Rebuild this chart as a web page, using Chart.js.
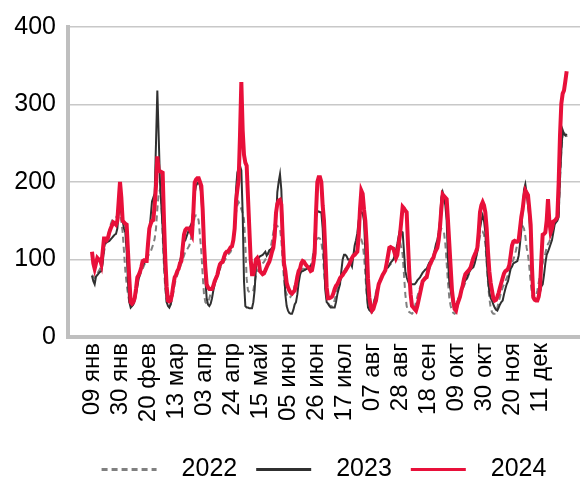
<!DOCTYPE html>
<html>
<head>
<meta charset="utf-8">
<script src="https://cdn.jsdelivr.net/npm/chart.js@4"></script>
<style>
  body { margin: 0; background: #fff; }
  #wrap { width: 580px; height: 484px; }
</style>
</head>
<body>
<div id="wrap"><canvas id="chart"></canvas></div>
<script>
// day 0 = 09 янв, one value per day up to 31 дек
const tickLabels = ['09 янв', '30 янв', '20 фев', '13 мар', '03 апр', '24 апр', '15 май', '05 июн',
  '26 июн', '17 июл', '07 авг', '28 авг', '18 сен', '09 окт', '30 окт', '20 ноя', '11 дек'];
const tickStep = 21;

const values2022 = [
  80, 78, 76, 78, 82, 85, 88, 92, 100, 110,
  118, 125, 130, 138, 145, 150, 153, 155, 155, 156,
  160, 158, 150, 135, 110, 85, 68, 55, 45, 40,
  40, 44, 50, 58, 68, 75, 80, 84, 88, 92,
  96, 100, 104, 108, 110, 115, 120, 127, 140, 165,
  185, 190, 175, 130, 90, 60, 45, 40, 40, 42,
  48, 58, 68, 75, 80, 85, 90, 95, 100, 105,
  110, 112, 115, 118, 125, 135, 145, 155, 157, 157,
  150, 130, 110, 80, 55, 45, 43, 45, 50, 56,
  62, 68, 72, 76, 80, 85, 88, 92, 95, 98,
  100, 103, 106, 108, 110, 115, 125, 140, 160, 170,
  174, 170, 165, 160, 152, 120, 75, 60, 58, 57,
  58, 60, 70, 80, 85, 88, 90, 92, 95, 97,
  100, 103, 106, 110, 115, 125, 135, 145, 145, 143,
  142, 140, 125, 97, 75, 60, 55, 52, 50, 52,
  55, 60, 66, 72, 78, 82, 85, 87, 88, 88,
  87, 86, 86, 88, 92, 98, 108, 118, 125, 127,
  128, 127, 122, 110, 85, 62, 50, 44, 41, 40,
  40, 42, 48, 55, 62, 68, 72, 76, 80, 84,
  88, 90, 93, 96, 100, 103, 106, 110, 115, 120,
  125, 127, 126, 120, 105, 80, 55, 40, 35, 34,
  36, 42, 50, 58, 65, 70, 74, 78, 80, 83,
  86, 88, 90, 92, 94, 96, 98, 102, 108, 115,
  120, 123, 115, 106, 80, 55, 40, 34, 32, 31,
  30, 32, 38, 45, 52, 58, 64, 68, 72, 75,
  78, 80, 84, 88, 92, 96, 100, 104, 110, 118,
  128, 136, 140, 138, 135, 120, 95, 70, 50, 40,
  34, 31, 30, 32, 38, 45, 52, 58, 62, 66,
  70, 74, 78, 82, 86, 90, 94, 98, 104, 110,
  120, 130, 135, 136, 132, 120, 95, 70, 50, 38,
  32, 30, 30, 33, 38, 45, 52, 58, 64, 68,
  72, 76, 80, 85, 90, 95, 100, 105, 112, 120,
  130, 140, 145, 143, 140, 130, 115, 106, 90, 70,
  55, 50, 50, 52, 60, 70, 80, 89, 95, 102,
  108, 115, 120, 123, 128, 135, 142, 148, 150, 152,
  160, 200, 240, 260, 262, 265, 258
];

const values2023 = [
  79, 72, 68, 78, 80, 82, 84, 85, 95, 115,
  123, 122, 123, 124, 126, 128, 130, 132, 133, 140,
  160, 168, 160, 150, 140, 135, 110, 70, 45, 38,
  40, 42, 47, 55, 65, 75, 82, 88, 92, 95,
  98, 102, 115, 135, 155, 175, 180, 185, 250, 318,
  260, 200, 170, 140, 100, 70, 45, 40, 38, 42,
  55, 70, 78, 81, 84, 90, 98, 105, 119, 123,
  125, 130, 135, 140, 144, 148, 165, 185, 195, 198,
  200, 195, 185, 150, 110, 75, 50, 42, 40, 43,
  50, 60, 68, 74, 78, 83, 90, 95, 100, 104,
  108, 110, 112, 113, 115, 116, 125, 140, 190, 212,
  218, 221, 215, 160, 72, 40, 38, 38, 37, 37,
  37, 45, 61, 90, 100, 102, 104, 105, 106, 108,
  110, 105, 108, 112, 113, 115, 118, 130, 150, 187,
  200, 210, 190, 140, 90, 55, 40, 34, 31, 30,
  30, 35, 42, 45, 55, 70, 80, 85, 85, 86,
  87, 88, 89, 90, 92, 90, 100, 130, 155, 161,
  162, 161, 161, 140, 100, 60, 45, 43, 40, 38,
  38, 38, 38, 45, 55, 62, 68, 85, 100, 106,
  106, 104, 100, 100, 95, 91, 105, 118, 125, 134,
  150, 158, 161, 160, 150, 110, 60, 38, 35, 33,
  32, 38, 48, 55, 60, 65, 72, 77, 81, 84,
  87, 89, 90, 93, 96, 98, 100, 105, 112, 120,
  130, 138, 136, 135, 110, 85, 77, 72, 68, 68,
  68, 68, 68, 70, 73, 75, 77, 80, 83, 85,
  87, 88, 92, 96, 98, 100, 105, 112, 120, 125,
  135, 150, 180, 187, 180, 170, 150, 100, 70, 60,
  50, 42, 38, 40, 45, 50, 51, 58, 64, 70,
  73, 75, 80, 84, 87, 89, 90, 95, 102, 110,
  125, 140, 150, 157, 150, 135, 100, 75, 58, 50,
  47, 42, 38, 35, 34, 38, 42, 45, 47, 55,
  62, 68, 72, 80, 88, 91, 95, 96, 97, 98,
  105, 120, 138, 165, 190, 197, 185, 170, 155, 120,
  70, 55, 50, 48, 47, 50, 58, 65, 68, 80,
  95, 106, 110, 115, 120, 125, 135, 145, 148, 150,
  155, 208, 240, 267, 262, 260, 262
];

const values2024 = [
  110, 95, 88, 95, 102, 100, 100, 94, 110, 127,
  127, 125, 128, 135, 140, 144, 148, 147, 145, 150,
  175, 200, 180, 150, 148, 146, 145, 110, 75, 45,
  43, 45, 50, 62, 77, 80, 84, 90, 98, 99,
  98, 98, 120, 140, 146, 150, 151, 170, 195, 233,
  215, 214, 213, 212, 150, 100, 65, 47, 46, 47,
  55, 67, 77, 80, 85, 88, 95, 98, 115, 132,
  138, 140, 140, 140, 136, 132, 160, 199, 203, 205,
  205, 200, 195, 165, 120, 90, 68, 64, 62, 62,
  62, 66, 72, 76, 80, 88, 94, 96, 97, 103,
  108, 110, 110, 113, 116, 117, 125, 140, 175, 190,
  203, 260, 329, 267, 235, 225, 221, 180, 140, 100,
  81, 81, 90, 100, 102, 98, 85, 83, 81, 82,
  86, 90, 94, 97, 103, 110, 115, 130, 160, 172,
  176, 177, 171, 130, 95, 85, 70, 64, 60, 57,
  56, 58, 60, 68, 78, 85, 88, 95, 98, 97,
  94, 92, 90, 88, 85, 86, 95, 108, 160, 200,
  206, 206, 200, 170, 150, 110, 64, 50, 50, 51,
  52, 56, 62, 66, 68, 72, 76, 78, 80, 83,
  85, 88, 91, 94, 98, 102, 105, 106, 108, 110,
  130, 165, 189, 185, 165, 150, 120, 75, 51, 40,
  34, 36, 42, 47, 58, 68, 72, 76, 80, 83,
  86, 95, 105, 115, 116, 115, 114, 108, 102, 106,
  120, 132, 150, 168, 166, 163, 161, 120, 81, 55,
  40, 38, 36, 34, 40, 48, 56, 64, 72, 74,
  76, 77, 85, 92, 95, 100, 102, 108, 112, 115,
  125, 142, 165, 184, 182, 180, 178, 150, 120, 90,
  60, 45, 36, 34, 42, 47, 52, 60, 66, 75,
  81, 83, 85, 87, 90, 96, 102, 106, 110, 115,
  135, 161, 170, 174, 170, 161, 140, 110, 85, 70,
  60, 50, 47, 48, 52, 57, 64, 70, 76, 82,
  85, 86, 88, 93, 105, 118, 123, 124, 123, 123,
  125, 140, 155, 165, 180, 189, 186, 183, 165, 145,
  90, 51, 48, 47, 47, 52, 63, 100, 132, 133,
  135, 150, 178, 150, 135, 140, 149, 150, 152, 155,
  199, 260, 301, 314, 318, 330, 343
];

const toPoints = (vals) => vals.map((v, i) => ({ x: i, y: v }));
const tickDays = tickLabels.map((_, k) => k * tickStep);

Chart.defaults.font.family = "'Liberation Sans', Arial, sans-serif";
Chart.defaults.color = '#000';

new Chart(document.getElementById('chart'), {
  type: 'line',
  data: {
    datasets: [
      {
        label: '2022',
        data: toPoints(values2022),
        borderColor: '#808080',
        borderWidth: 2,
        borderDash: [6, 4],
        pointRadius: 0,
        order: 3
      },
      {
        label: '2023',
        data: toPoints(values2023),
        borderColor: '#303030',
        borderWidth: 2,
        pointRadius: 0,
        order: 2
      },
      {
        label: '2024',
        data: toPoints(values2024),
        borderColor: '#e8103a',
        borderWidth: 4,
        pointRadius: 0,
        order: 1
      }
    ]
  },
  options: {
    responsive: true,
    maintainAspectRatio: false,
    animation: false,
    layout: { padding: { top: 1, left: 0, right: 0, bottom: -8 } },
    scales: {
      x: {
        type: 'linear',
        min: -18,
        max: 366,
        grid: { display: false, drawTicks: false },
        border: { display: true, color: '#bfbfbf', width: 4 },
        afterBuildTicks: (scale) => {
          scale.ticks = tickDays.map((d) => ({ value: d }));
        },
        afterFit: (scale) => { scale.height = 101; },
        ticks: {
          autoSkip: false,
          maxRotation: 90,
          minRotation: 90,
          padding: 6,
          font: { size: 24 },
          callback: (value) => tickLabels[tickDays.indexOf(value)]
        }
      },
      y: {
        min: 0,
        max: 400,
        grid: { color: '#c8c8c8', lineWidth: 1.5, drawTicks: false },
        border: { display: true, color: '#bfbfbf', width: 4 },
        afterFit: (scale) => { scale.width = 68; },
        ticks: {
          stepSize: 100,
          padding: 12,
          font: { size: 25 }
        }
      }
    },
    plugins: {
      legend: {
        position: 'bottom',
        fullSize: false,
        labels: {
          usePointStyle: true,
          pointStyle: 'line',
          pointStyleWidth: 55,
          padding: 19,
          font: { size: 25 },
          sort: (a, b) => a.datasetIndex - b.datasetIndex,
          generateLabels: (chart) => {
            const items = Chart.defaults.plugins.legend.labels.generateLabels(chart);
            items.forEach((it) => {
              const ds = chart.data.datasets[it.datasetIndex];
              it.text = '\u2002' + it.text;
              it.lineWidth = 3;
              it.lineDash = ds.borderDash || [];
              it.strokeStyle = ds.borderColor;
            });
            return items;
          }
        }
      },
      tooltip: { enabled: false }
    }
  }
});
</script>
</body>
</html>
